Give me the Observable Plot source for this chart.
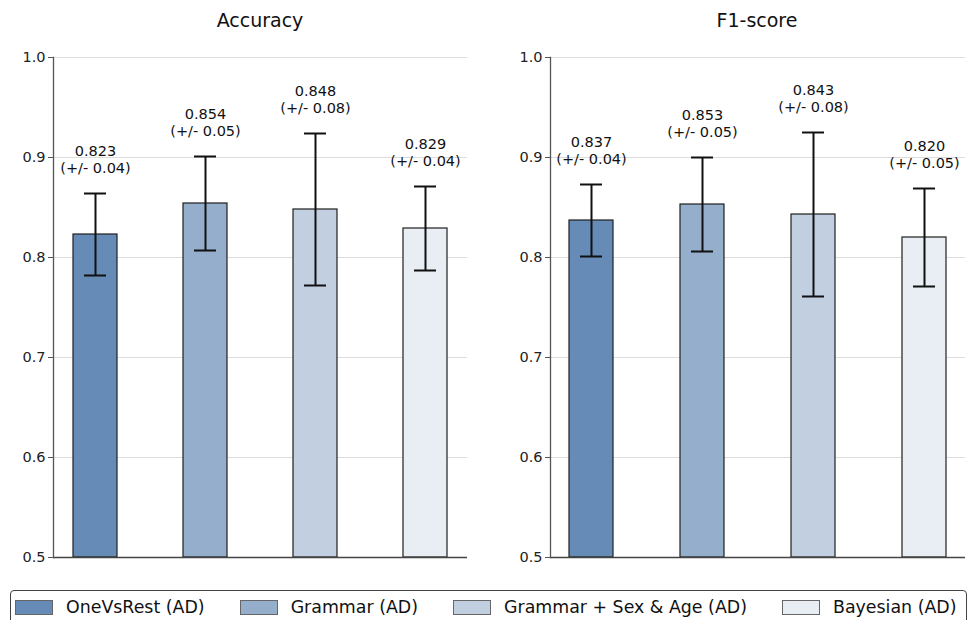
<!DOCTYPE html>
<html>
<head>
<meta charset="utf-8">
<script src="https://cdn.jsdelivr.net/npm/d3@7"></script>
<script src="https://cdn.jsdelivr.net/npm/@observablehq/plot@0.6"></script>
<style>
  html, body { margin: 0; padding: 0; background: #fff; }
  body { width: 971px; height: 620px; position: relative; overflow: hidden; font-family: "DejaVu Sans", sans-serif; }
  .panel { position: absolute; top: 0; }
  .title { position: absolute; top: 9px; font-size: 19px; color: #111; transform: translateX(-50%); white-space: nowrap; }
  #legend { position: absolute; left: 10px; top: 590px; width: 957px; height: 40px; border: 1px solid #444; border-radius: 4px; box-sizing: border-box; display: flex; align-items: flex-start; padding: 6px 0 0 4px; gap: 35px; font-size: 17.4px; color: #111; }
  .item { display: flex; align-items: center; gap: 13px; white-space: nowrap; }
  .sw { width: 36px; height: 13px; border: 1px solid #666; }
</style>
</head>
<body>
<div id="p1" class="panel" style="left:0px"></div>
<div id="p2" class="panel" style="left:485px"></div>
<div class="title" style="left:260px">Accuracy</div>
<div class="title" style="left:757px">F1-score</div>
<div id="legend"></div>
<script>
const models = ["OneVsRest (AD)", "Grammar (AD)", "Grammar + Sex & Age (AD)", "Bayesian (AD)"];
const colors = ["#658bb6", "#94aecc", "#c2cfe1", "#e8eef3"];
const accuracyMean = [0.823, 0.854, 0.848, 0.829];
const accuracyStd = [0.041, 0.047, 0.076, 0.042];
const f1Mean = [0.837, 0.853, 0.843, 0.820];
const f1Std = [0.036, 0.047, 0.082, 0.049];
const yTicks = [0.5, 0.6, 0.7, 0.8, 0.9, 1.0];
const yMin = 0.5, yMax = 1.0;

function panel(means, stds, opts) {
  const data = models.map((m, i) => ({model: m, mean: means[i], std: stds[i]}));
  return Plot.plot({
    width: opts.width,
    height: 620,
    marginLeft: opts.marginLeft,
    marginRight: opts.marginRight,
    marginTop: 57,
    marginBottom: 63,
    style: {fontFamily: "DejaVu Sans, sans-serif", fontSize: "14.5px", color: "#222", background: "#fff"},
    x: {domain: models, axis: null, paddingInner: 0.6, paddingOuter: 0.165},
    y: {domain: [yMin, yMax], label: null},
    color: {domain: models, range: colors},
    marks: [
      Plot.gridY(yTicks, {stroke: "#dcdcdc", strokeOpacity: 1, strokeWidth: 1}),
      Plot.barY(data, {x: "model", y1: yMin, y2: "mean", fill: "model", stroke: "#1e1e1e", strokeWidth: 1.2}),
      Plot.ruleX(data, {x: "model", y1: d => d.mean - d.std, y2: d => d.mean + d.std, stroke: "#111", strokeWidth: 2}),
      Plot.tickY(data, {x: "model", y: d => d.mean + d.std, stroke: "#111", strokeWidth: 2, insetLeft: 11, insetRight: 11}),
      Plot.tickY(data, {x: "model", y: d => d.mean - d.std, stroke: "#111", strokeWidth: 2, insetLeft: 11, insetRight: 11}),
      Plot.text(data, {x: "model", y: d => d.mean + d.std, text: d => `${d.mean.toFixed(3)}\n(+/- ${d.std.toFixed(2)})`, lineAnchor: "bottom", dy: -21, fontSize: 14.5, fill: "#111", lineHeight: 1.15}),
      Plot.axisY({ticks: yTicks, tickFormat: d3.format(".1f"), tickSize: 5, tickPadding: 3, stroke: "#555", fontSize: 14.5, fill: "#222", label: null}),
      Plot.ruleY([yMin], {stroke: "#444", strokeWidth: 1.3}),
      Plot.frame({anchor: "left", stroke: "#555", strokeWidth: 1.3})
    ]
  });
}

document.getElementById("p1").appendChild(panel(accuracyMean, accuracyStd, {width: 485, marginLeft: 53, marginRight: 18}));
document.getElementById("p2").appendChild(panel(f1Mean, f1Std, {width: 486, marginLeft: 65, marginRight: 6}));

const legend = document.getElementById("legend");
models.forEach((m, i) => {
  const item = document.createElement("div");
  item.className = "item";
  const sw = document.createElement("div");
  sw.className = "sw";
  sw.style.background = colors[i];
  const lab = document.createElement("span");
  lab.textContent = m;
  item.appendChild(sw);
  item.appendChild(lab);
  legend.appendChild(item);
});
</script>
</body>
</html>
